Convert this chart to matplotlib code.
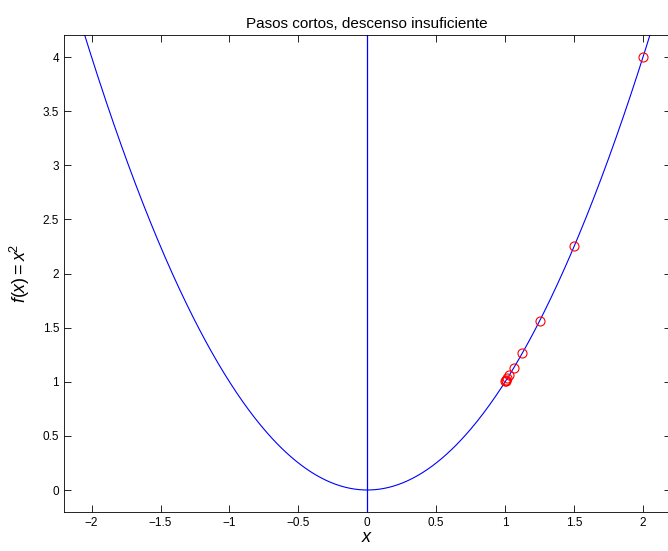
import numpy as np
import matplotlib
matplotlib.use("Agg")
import matplotlib.pyplot as plt

plt.rcParams['font.family'] = ['Liberation Sans', 'DejaVu Sans']
plt.rcParams['axes.unicode_minus'] = True
plt.rcParams['mathtext.fontset'] = 'custom'
plt.rcParams['mathtext.it'] = 'Liberation Sans:italic'
plt.rcParams['mathtext.rm'] = 'Liberation Sans'

title = "Pasos cortos, descenso insuficiente"
x_iter = [2.0, 1.5, 1.25, 1.125, 1.0625, 1.03125, 1.015625, 1.0078125, 1.00390625, 1.001953125]
y_iter = [v ** 2 for v in x_iter]
xticks = [-2, -1.5, -1, -0.5, 0, 0.5, 1, 1.5, 2]
yticks = [0, 0.5, 1, 1.5, 2, 2.5, 3, 3.5, 4]
xlim = (-2.2, 2.2)
ylim = (-0.2, 4.2)

fig = plt.figure(figsize=(6.68, 5.51), dpi=100)
ax = fig.add_axes([64/668, (551-511.65)/551, (670.6-64)/668, (511.65-35.4)/551])

xs = np.linspace(xlim[0], xlim[1], 500)
ax.plot(xs, xs ** 2, color='blue', lw=0.8)
ax.axvline(0, color='blue', lw=0.9)
ax.plot(x_iter, y_iter, 'o', mfc='none', mec='red', ms=6.5, mew=0.8)

ax.set_xlim(*xlim)
ax.set_ylim(*ylim)
ax.set_xticks(xticks)
ax.set_yticks(yticks)
ax.set_xticklabels([('%g' % t).replace('-', '\u2212') for t in xticks])
ax.set_yticklabels([('%g' % t) for t in yticks])
ax.tick_params(direction='in', top=True, right=True, labelsize=8.5, length=5, width=0.6)
for s in ax.spines.values():
    s.set_linewidth(0.6)

ax.set_title(title, fontsize=11, pad=5)
ax.set_xlabel(r'$x$', fontsize=13, labelpad=0)
ax.set_ylabel(r'$f(x)=x^{\!2}$', fontsize=13, labelpad=8)

fig.savefig('out.png', dpi=100)
